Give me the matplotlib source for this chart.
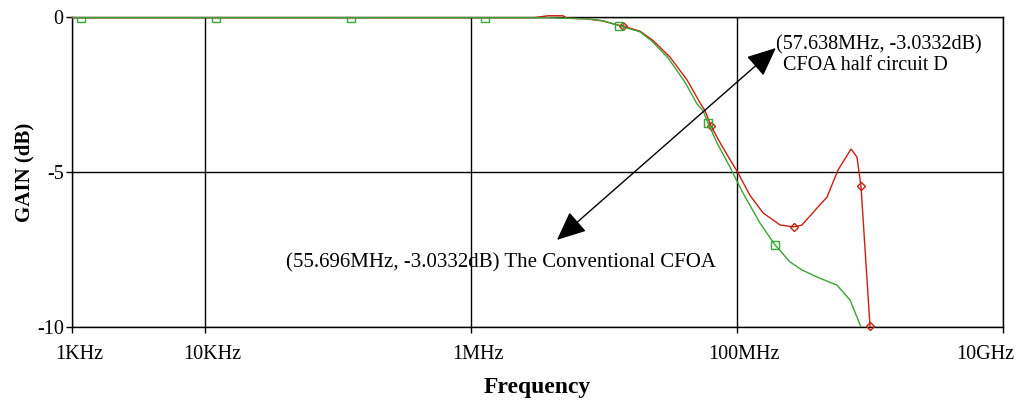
import numpy as np
import matplotlib
matplotlib.use("Agg")
import matplotlib.pyplot as plt
from matplotlib.transforms import ScaledTranslation

plt.rcParams["font.family"] = ["Liberation Serif", "DejaVu Serif"]

# --------------------------
# Frequency response data (Hz, dB)
# --------------------------
conv_freq = [1e3, 1.17e3, 12.1e3, 125e3, 1.27e6, 3.79e6, 5.27e6, 7.45e6, 9.83e6,
             13.0e6, 18.7e6, 22.9e6, 30.3e6, 40.6e6, 50.0e6, 55.696e6, 60.5e6,
             70.7e6, 88.5e6, 100e6, 111e6, 149e6, 193e6, 250e6, 308e6, 400e6,
             565e6, 708e6, 855e6]
conv_gain = [-0.02, -0.02, -0.02, -0.02, -0.02, -0.02, -0.04, -0.06, -0.12,
             -0.28, -0.48, -0.78, -1.32, -2.10, -2.80, -3.0332, -3.42,
             -4.06, -4.84, -5.30, -5.68, -6.65, -7.35, -7.90, -8.16, -8.39,
             -8.65, -9.13, -10.0]
conv_marks = [1, 2, 3, 4, 9, 16, 22]

half_freq = [1e3, 1e6, 3.0e6, 3.79e6, 4.92e6, 5.27e6, 7.45e6, 9.83e6, 12.7e6,
             13.9e6, 18.7e6, 23.4e6, 31.3e6, 42.1e6, 52.7e6, 57.638e6, 63.8e6,
             74.5e6, 88.5e6, 100e6, 125e6, 157e6, 211e6, 268e6, 308e6, 400e6,
             475e6, 574e6, 720e6, 798e6, 855e6, 1.0e9]
half_gain = [-0.02, -0.02, -0.02, 0.04, 0.04, -0.04, -0.06, -0.13, -0.26,
             -0.29, -0.46, -0.76, -1.29, -2.03, -2.77, -3.0332, -3.52,
             -4.05, -4.60, -4.97, -5.75, -6.32, -6.71, -6.77, -6.71, -6.16,
             -5.81, -4.94, -4.26, -4.52, -5.45, -9.97]
half_marks = [9, 16, 23, 30, 31]

x_ticks = [1e3, 1e4, 1e6, 1e8, 1e10]
x_labels = ["1KHz", "10KHz", "1MHz", "100MHz", "10GHz"]
y_ticks = [0, -5, -10]

GREEN = "#3aa435"
RED = "#c8200f"

fig = plt.figure(figsize=(10.19, 4.0), dpi=100)
ax = fig.add_axes([0.0707, 0.1825, 0.9136, 0.775])

ax.plot(half_freq, half_gain, color=RED, lw=1.0, marker="D", ms=4.5,
        mfc="none", mec=RED, mew=1.0, markevery=half_marks, zorder=3,
        clip_on=False)
ax.plot(conv_freq, conv_gain, color=GREEN, lw=1.0, marker="s", ms=5.5,
        mfc="none", mec=GREEN, mew=1.0, markevery=conv_marks, zorder=4)

ax.set_xscale("log")
ax.set_xlim(1e3, 1e10)
ax.set_ylim(-10, 0)
ax.set_xticks(x_ticks)
ax.set_xticklabels(x_labels)
ax.xaxis.set_minor_locator(matplotlib.ticker.NullLocator())
ax.set_yticks(y_ticks)
ax.set_yticklabels([str(v) for v in y_ticks])
ax.tick_params(axis="both", direction="out", length=4, width=1.0,
               labelsize=14.5, colors="black")
ax.tick_params(axis="x", pad=9)
ax.tick_params(axis="y", pad=2)

# nudge the frequency labels; the last one is kept inside the figure
xlabels = ax.get_xticklabels()
for lab in xlabels[:-1]:
    lab.set_transform(lab.get_transform() + ScaledTranslation(0.07, 0, fig.dpi_scale_trans))
xlabels[-1].set_horizontalalignment("right")
xlabels[-1].set_transform(xlabels[-1].get_transform() + ScaledTranslation(0.11, 0, fig.dpi_scale_trans))

ax.grid(True, color="black", lw=1.0)
ax.set_axisbelow(True)
for sp in ax.spines.values():
    sp.set_color("black")
    sp.set_linewidth(1.0)

ax.set_xlabel("Frequency", fontsize=17, fontweight="bold", labelpad=9)
ax.set_ylabel("GAIN (dB)", fontsize=15, fontweight="bold", labelpad=2)

# double-headed pointer between the two -3 dB notes
ax.annotate("", xy=(4.43e6, -7.19), xytext=(1.96e8, -1.0),
            arrowprops=dict(arrowstyle="<|-|>,head_length=0.9,head_width=0.4",
                            mutation_scale=20, color="black", lw=1.0,
                            shrinkA=0, shrinkB=0), zorder=5)

ax.text(1.97e8, -0.90, "(57.638MHz, -3.0332dB)", fontsize=14.5,
        ha="left", va="center", zorder=6)
ax.text(2.2e8, -1.55, "CFOA half circuit D", fontsize=14.5,
        ha="left", va="center", zorder=6)
ax.text(1.68e6, -7.93, "(55.696MHz, -3.0332dB) The Conventional CFOA",
        fontsize=15, ha="center", va="center", zorder=6)

fig.savefig("out.png", dpi=100)
